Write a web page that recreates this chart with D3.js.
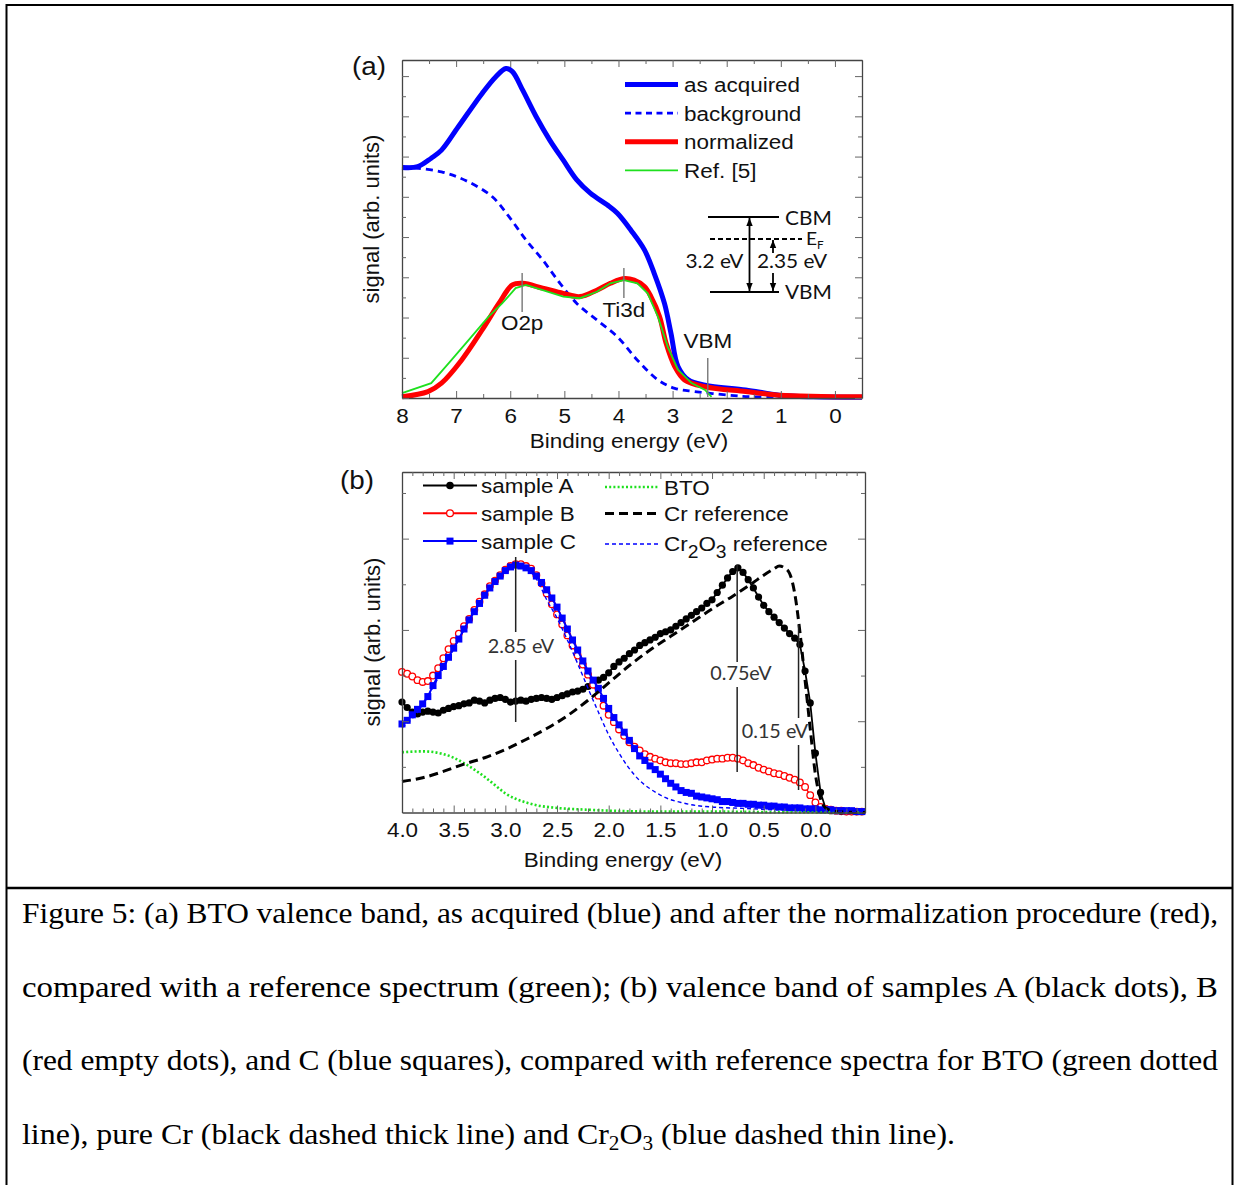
<!DOCTYPE html>
<html>
<head>
<meta charset="utf-8">
<script src="https://cdn.jsdelivr.net/npm/d3@7"></script>
<style>
  body { margin: 0; background: #fff; }
  svg { display: block; }
</style>
</head>
<body>
<svg id="fig"></svg>
<script>
// ---------- panel (a): BTO valence band, energy (eV) vs signal ----------
const acqE = [8.0, 7.71, 7.46, 7.27, 6.96, 6.52, 6.27, 6.08, 5.96, 5.77, 5.52, 5.27, 5.02, 4.77, 4.52, 4.21, 4.02, 3.77, 3.52, 3.34, 3.15, 3.03, 2.90, 2.71, 2.40, 1.65, 1.03, 0.40, -0.5];
const acqV = [5.73, 5.75, 5.96, 6.16, 6.74, 7.57, 7.98, 8.19, 8.11, 7.65, 6.99, 6.41, 5.91, 5.42, 5.09, 4.80, 4.59, 4.17, 3.68, 3.10, 2.35, 1.61, 0.78, 0.45, 0.32, 0.20, 0.07, 0.03, 0.02];
const bgE = [8.0, 7.27, 6.77, 6.33, 6.02, 5.71, 5.40, 5.08, 4.77, 4.40, 4.02, 3.65, 3.27, 2.96, 2.59, 1.96, 1.53, 0.72];
const bgV = [5.75, 5.62, 5.37, 5.00, 4.50, 3.93, 3.43, 2.85, 2.35, 1.94, 1.52, 0.94, 0.45, 0.24, 0.16, 0.07, 0.03, 0.02];
const normE = [8.0, 7.52, 7.27, 6.90, 6.52, 6.21, 5.96, 5.77, 5.40, 5.02, 4.71, 4.40, 4.15, 3.90, 3.71, 3.52, 3.40, 3.24, 3.12, 2.96, 2.78, 2.40, 1.65, 1.03, -0.5];
const normV = [0.03, 0.16, 0.37, 0.94, 1.69, 2.35, 2.81, 2.85, 2.73, 2.60, 2.52, 2.68, 2.85, 2.97, 2.93, 2.77, 2.52, 2.02, 1.36, 0.78, 0.45, 0.28, 0.16, 0.07, 0.03];
const refE = [8.0, 7.46, 7.14, 6.77, 6.40, 6.15, 5.90, 5.71, 5.40, 5.02, 4.71, 4.40, 4.15, 3.90, 3.65, 3.46, 3.27, 3.09, 2.90, 2.65, 2.40, 2.28];
const refV = [0.12, 0.37, 0.86, 1.44, 2.02, 2.35, 2.73, 2.81, 2.68, 2.52, 2.48, 2.64, 2.85, 2.93, 2.85, 2.60, 2.02, 1.27, 0.70, 0.37, 0.20, 0.03];
const aTicks = [8, 7, 6, 5, 4, 3, 2, 1, 0];
const aLegend = ["as acquired", "background", "normalized", "Ref. [5]"];
const aMarks = [{ e: 5.78, label: "O2p" }, { e: 3.90, label: "Ti3d" }, { e: 2.35, label: "VBM" }];

// ---------- panel (b): samples and references ----------
const sampE = [4.00, 3.95, 3.90, 3.85, 3.80, 3.75, 3.70, 3.65, 3.60, 3.55, 3.50, 3.45, 3.40, 3.35, 3.30, 3.25, 3.20, 3.15, 3.10, 3.05,
  3.00, 2.95, 2.90, 2.85, 2.80, 2.75, 2.70, 2.65, 2.60, 2.55, 2.50, 2.45, 2.40, 2.35, 2.30, 2.25, 2.20, 2.15, 2.10, 2.05,
  2.00, 1.95, 1.90, 1.85, 1.80, 1.75, 1.70, 1.65, 1.60, 1.55, 1.50, 1.45, 1.40, 1.35, 1.30, 1.25, 1.20, 1.15, 1.10, 1.05,
  1.00, 0.95, 0.90, 0.85, 0.80, 0.75, 0.70, 0.65, 0.60, 0.55, 0.50, 0.45, 0.40, 0.35, 0.30, 0.25, 0.20, 0.15, 0.10, 0.05,
  0.00, -0.05, -0.10, -0.15, -0.20, -0.25, -0.30, -0.35, -0.40, -0.45];
const sampleA = [1.21, 1.15, 1.10, 1.08, 1.10, 1.11, 1.10, 1.09, 1.12, 1.14, 1.16, 1.17, 1.19, 1.20, 1.23, 1.22, 1.20, 1.23, 1.25, 1.26,
  1.24, 1.21, 1.22, 1.23, 1.22, 1.24, 1.25, 1.26, 1.25, 1.24, 1.26, 1.28, 1.30, 1.32, 1.33, 1.35, 1.38, 1.42, 1.45, 1.48,
  1.53, 1.60, 1.65, 1.69, 1.74, 1.78, 1.83, 1.86, 1.89, 1.92, 1.96, 1.98, 2.00, 2.04, 2.08, 2.12, 2.16, 2.20, 2.24, 2.29,
  2.33, 2.41, 2.49, 2.57, 2.64, 2.68, 2.63, 2.55, 2.46, 2.36, 2.27, 2.20, 2.14, 2.08, 2.02, 1.96, 1.91, 1.84, 1.55, 1.20,
  0.65, 0.22, 0.04, 0.02, 0.02, 0.01, 0.01, 0.01, 0.01, 0.01];
const sampleB = [1.54, 1.52, 1.49, 1.45, 1.43, 1.44, 1.50, 1.58, 1.69, 1.79, 1.88, 1.96, 2.04, 2.12, 2.22, 2.31, 2.39, 2.48, 2.54, 2.60,
  2.66, 2.70, 2.72, 2.72, 2.70, 2.67, 2.60, 2.51, 2.40, 2.28, 2.17, 2.06, 1.94, 1.83, 1.72, 1.62, 1.51, 1.40, 1.28, 1.17,
  1.07, 0.99, 0.91, 0.84, 0.77, 0.72, 0.68, 0.64, 0.61, 0.59, 0.57, 0.55, 0.54, 0.54, 0.53, 0.53, 0.54, 0.55, 0.55, 0.57,
  0.58, 0.59, 0.59, 0.60, 0.60, 0.59, 0.57, 0.54, 0.52, 0.49, 0.47, 0.45, 0.43, 0.42, 0.40, 0.38, 0.36, 0.33, 0.28, 0.19,
  0.11, 0.06, 0.04, 0.03, 0.02, 0.02, 0.01, 0.01, 0.01, 0.01];
const sampleC = [0.97, 1.01, 1.07, 1.13, 1.19, 1.27, 1.39, 1.50, 1.60, 1.70, 1.80, 1.90, 2.01, 2.11, 2.20, 2.29, 2.38, 2.46, 2.53, 2.59,
  2.65, 2.69, 2.71, 2.70, 2.68, 2.65, 2.59, 2.52, 2.44, 2.35, 2.25, 2.13, 2.01, 1.89, 1.78, 1.66, 1.55, 1.45, 1.36, 1.25,
  1.14, 1.04, 0.96, 0.88, 0.79, 0.70, 0.62, 0.57, 0.51, 0.47, 0.42, 0.37, 0.32, 0.28, 0.24, 0.22, 0.21, 0.18, 0.17, 0.16,
  0.15, 0.14, 0.12, 0.12, 0.11, 0.10, 0.10, 0.09, 0.09, 0.08, 0.08, 0.07, 0.07, 0.06, 0.06, 0.05, 0.05, 0.05, 0.04, 0.04,
  0.04, 0.03, 0.03, 0.03, 0.02, 0.02, 0.02, 0.02, 0.01, 0.01];
const btoE = [4.0, 3.8, 3.6, 3.5, 3.4, 3.3, 3.2, 3.1, 3.0, 2.9, 2.8, 2.7, 2.5, 2.2, 2.0, 1.5, 1.0, 0.5, -0.48];
const btoV = [0.66, 0.67, 0.64, 0.60, 0.54, 0.47, 0.39, 0.30, 0.21, 0.15, 0.11, 0.08, 0.05, 0.03, 0.02, 0.01, 0.01, 0.005, 0.0];
const crE = [4.0, 3.8, 3.6, 3.4, 3.2, 3.0, 2.8, 2.6, 2.4, 2.2, 2.0, 1.8, 1.6, 1.4, 1.2, 1.0, 0.8, 0.6, 0.5, 0.4, 0.35, 0.30, 0.25, 0.20, 0.15, 0.10, 0.05, 0.0, -0.05, -0.10, -0.20, -0.48];
const crV = [0.34, 0.38, 0.45, 0.53, 0.60, 0.69, 0.80, 0.92, 1.06, 1.23, 1.42, 1.61, 1.78, 1.93, 2.08, 2.23, 2.37, 2.52, 2.60, 2.67, 2.70, 2.68, 2.62, 2.40, 1.98, 1.45, 0.92, 0.42, 0.15, 0.05, 0.01, 0.0];
const cr2o3E = [4.0, 3.9, 3.8, 3.7, 3.6, 3.5, 3.4, 3.3, 3.2, 3.1, 3.0, 2.9, 2.8, 2.7, 2.6, 2.5, 2.4, 2.3, 2.2, 2.1, 2.0, 1.9, 1.8, 1.7, 1.6, 1.5, 1.4, 1.3, 1.2, 1.0, 0.7, 0.4, 0.0, -0.48];
const cr2o3V = [0.93, 1.03, 1.18, 1.37, 1.58, 1.79, 2.00, 2.20, 2.38, 2.53, 2.64, 2.70, 2.67, 2.56, 2.33, 2.13, 1.89, 1.63, 1.36, 1.10, 0.85, 0.65, 0.48, 0.35, 0.26, 0.19, 0.14, 0.11, 0.085, 0.06, 0.045, 0.03, 0.02, 0.01];
const bTicks = [4.0, 3.5, 3.0, 2.5, 2.0, 1.5, 1.0, 0.5, 0.0];
const bMarks = [
  { e: 2.90, label: "2.85 eV", y1: 557, y2: 632, y3: 660, y4: 722, tx: 521, ty: 653 },
  { e: 0.757, label: "0.75eV", y1: 565, y2: 662, y3: 687, y4: 772, tx: 741, ty: 680 },
  { e: 0.163, label: "0.15 eV", y1: 625, y2: 718, y3: 745, y4: 790, tx: 775, ty: 738 }
];

const caption = [
  "Figure 5: (a) BTO valence band, as acquired (blue) and after the normalization procedure (red),",
  "compared with a reference spectrum (green); (b) valence band of samples A (black dots), B",
  "(red empty dots), and C (blue squares), compared with reference spectra for BTO (green dotted"
];

// ---------- setup ----------
const W = 1235, H = 1185;
const SANS = "'Liberation Sans', Arial, sans-serif";
const CAL = "Lato, 'Open Sans', sans-serif";
const SX = 1.07; // the figure is slightly wide
const BLUE = "#0000ff", RED = "#ff0000", GREEN = "#1ee01e";

const svg = d3.select("#fig").attr("width", W).attr("height", H);
svg.append("rect").attr("width", W).attr("height", H).attr("fill", "#fff");
svg.append("rect").attr("x", 6.5).attr("y", 5).attr("width", 1226).attr("height", 1200)
  .attr("fill", "none").attr("stroke", "#000").attr("stroke-width", 2);
svg.append("line").attr("x1", 6).attr("x2", 1233).attr("y1", 888).attr("y2", 888)
  .attr("stroke", "#000").attr("stroke-width", 2.5);

function label(g, x, y, str, size, anchor, family) {
  return g.append("text")
    .attr("transform", `translate(${x},${y}) scale(${SX},1)`)
    .attr("text-anchor", anchor || "start")
    .attr("font-family", family || SANS)
    .attr("font-size", size)
    .attr("fill", "#111")
    .text(str);
}

function frame(g, x, y, majX, minX, majY, minY, fmt) {
  const [xl, xr] = x.range(), [yb, yt] = y.range();
  const style = s => {
    s.selectAll("path.domain").attr("stroke", "#444").attr("stroke-width", 1.3);
    s.selectAll(".tick line").attr("stroke", "#666").attr("stroke-width", 1);
  };
  const noDomain = s => s.select("path.domain").remove();
  g.append("g").attr("transform", `translate(0,${yb})`)
    .call(d3.axisBottom(x).tickValues(majX).tickSize(-7).tickSizeOuter(0).tickPadding(10).tickFormat(fmt))
    .call(style)
    .call(s => s.selectAll("text").attr("font-family", SANS).attr("font-size", 21).attr("fill", "#111")
      .attr("transform", `scale(${SX},1)`));
  g.append("g").attr("transform", `translate(0,${yb})`)
    .call(d3.axisBottom(x).tickValues(minX).tickSize(-4).tickFormat("")).call(noDomain).call(style);
  g.append("g").attr("transform", `translate(0,${yt})`)
    .call(d3.axisTop(x).tickValues(majX).tickSize(-7).tickSizeOuter(0).tickFormat("")).call(style);
  g.append("g").attr("transform", `translate(0,${yt})`)
    .call(d3.axisTop(x).tickValues(minX).tickSize(-4).tickFormat("")).call(noDomain).call(style);
  g.append("g").attr("transform", `translate(${xl},0)`)
    .call(d3.axisLeft(y).tickValues(majY).tickSize(-7).tickSizeOuter(0).tickFormat("")).call(style);
  g.append("g").attr("transform", `translate(${xl},0)`)
    .call(d3.axisLeft(y).tickValues(minY).tickSize(-4).tickFormat("")).call(noDomain).call(style);
  g.append("g").attr("transform", `translate(${xr},0)`)
    .call(d3.axisRight(y).tickValues(majY).tickSize(-7).tickSizeOuter(0).tickFormat("")).call(style);
  g.append("g").attr("transform", `translate(${xr},0)`)
    .call(d3.axisRight(y).tickValues(minY).tickSize(-4).tickFormat("")).call(noDomain).call(style);
}

const zip = (es, vs) => es.map((e, i) => ({ e, v: vs[i] }));

// ---------- panel (a) ----------
const ga = svg.append("g");
const xa = d3.scaleLinear().domain([8, -0.5]).range([402, 862]);
const ya = d3.scaleLinear().domain([0, 8.4]).range([398, 60]);
const lineA = d3.line().x(d => xa(d.e)).y(d => ya(d.v)).curve(d3.curveCatmullRom.alpha(0.5));

ga.append("path").datum(zip(bgE, bgV)).attr("d", lineA)
  .attr("fill", "none").attr("stroke", BLUE).attr("stroke-width", 2.8).attr("stroke-dasharray", "7,5");
ga.append("path").datum(zip(acqE, acqV)).attr("d", lineA)
  .attr("fill", "none").attr("stroke", BLUE).attr("stroke-width", 5);
ga.append("path").datum(zip(normE, normV)).attr("d", lineA)
  .attr("fill", "none").attr("stroke", RED).attr("stroke-width", 5);
ga.append("path").datum(zip(refE, refV)).attr("d", d3.line().x(d => xa(d.e)).y(d => ya(d.v)))
  .attr("fill", "none").attr("stroke", GREEN).attr("stroke-width", 1.8);

frame(ga, xa, ya, aTicks, d3.range(7.5, -0.6, -1), d3.range(0, 9), d3.range(0.5, 8.4, 1), d3.format("d"));

// peak markers
const markY = [[273, 312, 330], [268, 298, 317], [358, 397, 348]];
aMarks.forEach((m, i) => {
  const [t, b, ty] = markY[i];
  ga.append("line").attr("x1", xa(m.e)).attr("x2", xa(m.e)).attr("y1", t).attr("y2", b)
    .attr("stroke", "#777").attr("stroke-width", 1.4);
  label(ga, xa(m.e), ty, m.label, 21, "middle");
});

// legend (a)
const legA = [
  { c: BLUE, w: 5, d: null }, { c: BLUE, w: 2.8, d: "6,4.5" },
  { c: RED, w: 5, d: null }, { c: GREEN, w: 1.8, d: null }
];
aLegend.forEach((t, i) => {
  const y = 84.5 + i * 28.6;
  ga.append("line").attr("x1", 625).attr("x2", 678).attr("y1", y).attr("y2", y)
    .attr("stroke", legA[i].c).attr("stroke-width", legA[i].w).attr("stroke-dasharray", legA[i].d);
  label(ga, 684, y + 7.5, t, 21);
});

// band diagram inset
const ins = ga.append("g").attr("stroke", "#000");
ins.append("line").attr("x1", 708).attr("x2", 779).attr("y1", 217).attr("y2", 217).attr("stroke-width", 2);
ins.append("line").attr("x1", 710).attr("x2", 802).attr("y1", 239).attr("y2", 239).attr("stroke-width", 1.8).attr("stroke-dasharray", "5,3");
ins.append("line").attr("x1", 710).attr("x2", 779).attr("y1", 292).attr("y2", 292).attr("stroke-width", 2);
function arrowV(x, y1, y2, up, down) {
  ins.append("line").attr("x1", x).attr("x2", x).attr("y1", y1).attr("y2", y2).attr("stroke-width", 1.8);
  if (up) ga.append("path").attr("d", `M${x},${y1} L${x - 3.2},${y1 + 8} L${x + 3.2},${y1 + 8} Z`).attr("fill", "#000");
  if (down) ga.append("path").attr("d", `M${x},${y2} L${x - 3.2},${y2 - 8} L${x + 3.2},${y2 - 8} Z`).attr("fill", "#000");
}
arrowV(749.5, 218, 291, true, true);
arrowV(773, 240, 253, true, false);
arrowV(773, 273, 291, false, true);
label(ga, 785, 225, "CBM", 19.5, "start", CAL);
label(ga, 785, 299, "VBM", 19.5, "start", CAL);
label(ga, 743.5, 268, "3.2 eV", 19.5, "end", CAL);
label(ga, 792, 268, "2.35 eV", 19.5, "middle", CAL);
const ef = label(ga, 806, 245, "E", 18, "start", CAL);
ef.append("tspan").attr("font-size", 11).attr("dy", 4).text("F");

label(ga, 352, 75, "(a)", 26);
label(ga, 629, 448, "Binding energy (eV)", 21, "middle");
ga.append("text").attr("transform", "translate(379,219) rotate(-90)").attr("text-anchor", "middle")
  .attr("font-family", SANS).attr("font-size", 22).attr("fill", "#111").text("signal (arb. units)");

// ---------- panel (b) ----------
const gb = svg.append("g");
const xb = d3.scaleLinear().domain([4, -0.48]).range([402, 865]);
const yb = d3.scaleLinear().domain([0, 3.73]).range([812.5, 472]);
const lineB = d3.line().x(d => xb(d.e)).y(d => yb(d.v));
const lineBs = d3.line().x(d => xb(d.e)).y(d => yb(d.v)).curve(d3.curveMonotoneX);

const dA = zip(sampE, sampleA), dB = zip(sampE, sampleB), dC = zip(sampE, sampleC);
gb.append("path").datum(dA).attr("d", lineB).attr("fill", "none").attr("stroke", "#000").attr("stroke-width", 1.8);
gb.selectAll(".mA").data(dA).join("circle").attr("cx", d => xb(d.e)).attr("cy", d => yb(d.v))
  .attr("r", 3.6).attr("fill", "#000");
gb.append("path").datum(dB).attr("d", lineB).attr("fill", "none").attr("stroke", RED).attr("stroke-width", 1.4);
gb.selectAll(".mB").data(dB).join("circle").attr("cx", d => xb(d.e)).attr("cy", d => yb(d.v))
  .attr("r", 3.3).attr("fill", "#fff").attr("stroke", RED).attr("stroke-width", 1.3);
gb.append("path").datum(dC).attr("d", lineB).attr("fill", "none").attr("stroke", BLUE).attr("stroke-width", 2);
gb.selectAll(".mC").data(dC).join("rect").attr("x", d => xb(d.e) - 3.5).attr("y", d => yb(d.v) - 3.5)
  .attr("width", 7).attr("height", 7).attr("fill", BLUE);

gb.append("path").datum(zip(btoE, btoV)).attr("d", lineBs).attr("fill", "none")
  .attr("stroke", GREEN).attr("stroke-width", 2.6).attr("stroke-dasharray", "2,2.2");
gb.append("path").datum(zip(crE, crV)).attr("d", lineBs).attr("fill", "none")
  .attr("stroke", "#000").attr("stroke-width", 3).attr("stroke-dasharray", "9,5");
gb.append("path").datum(zip(cr2o3E, cr2o3V)).attr("d", lineBs).attr("fill", "none")
  .attr("stroke", BLUE).attr("stroke-width", 1.4).attr("stroke-dasharray", "4,3");

frame(gb, xb, yb, bTicks, d3.range(3.9, -0.45, -0.1).map(v => +v.toFixed(1)).filter(v => Math.abs(v * 2 - Math.round(v * 2)) > 1e-6),
  [1, 2, 3], [0.5, 1.5, 2.5, 3.5], d3.format(".1f"));

bMarks.forEach(m => {
  const x = xb(m.e);
  gb.append("line").attr("x1", x).attr("x2", x).attr("y1", m.y1).attr("y2", m.y2).attr("stroke", "#222").attr("stroke-width", 1.5);
  gb.append("line").attr("x1", x).attr("x2", x).attr("y1", m.y3).attr("y2", m.y4).attr("stroke", "#222").attr("stroke-width", 1.5);
  label(gb, m.tx, m.ty, m.label, 18.5, "middle", CAL).attr("fill", "#333");
});

// legend (b)
const legB = [
  { t: "sample A", c: "#000", m: "dot" }, { t: "sample B", c: RED, m: "ring" }, { t: "sample C", c: BLUE, m: "sq" }
];
legB.forEach((l, i) => {
  const y = 485.5 + i * 27.8;
  gb.append("line").attr("x1", 423).attr("x2", 477).attr("y1", y).attr("y2", y).attr("stroke", l.c).attr("stroke-width", 2);
  if (l.m === "dot") gb.append("circle").attr("cx", 450).attr("cy", y).attr("r", 3.8).attr("fill", "#000");
  if (l.m === "ring") gb.append("circle").attr("cx", 450).attr("cy", y).attr("r", 3.4).attr("fill", "#fff").attr("stroke", RED).attr("stroke-width", 1.3);
  if (l.m === "sq") gb.append("rect").attr("x", 446.5).attr("y", y - 3.5).attr("width", 7).attr("height", 7).attr("fill", BLUE);
  label(gb, 481, y + 7.5, l.t, 21);
});
const legR = [
  { y: 487, c: GREEN, w: 2.6, d: "2,2.2" }, { y: 513.5, c: "#000", w: 3, d: "9,5" }, { y: 544, c: BLUE, w: 1.4, d: "4,3" }
];
legR.forEach(l => {
  gb.append("line").attr("x1", 605).attr("x2", 658).attr("y1", l.y).attr("y2", l.y)
    .attr("stroke", l.c).attr("stroke-width", l.w).attr("stroke-dasharray", l.d);
});
label(gb, 664, 494.5, "BTO", 21);
label(gb, 664, 521, "Cr reference", 21);
const crl = label(gb, 664, 551, "Cr", 21);
crl.append("tspan").attr("font-size", 18).attr("dy", 7).text("2");
crl.append("tspan").attr("dy", -7).text("O");
crl.append("tspan").attr("font-size", 18).attr("dy", 7).text("3");
crl.append("tspan").attr("dy", -7).text(" reference");

label(gb, 340, 489, "(b)", 26);
label(gb, 623, 867, "Binding energy (eV)", 21, "middle");
gb.append("text").attr("transform", "translate(380,642) rotate(-90)").attr("text-anchor", "middle")
  .attr("font-family", SANS).attr("font-size", 22).attr("fill", "#111").text("signal (arb. units)");

// ---------- caption ----------
const SERIF = "'Liberation Serif', 'Times New Roman', serif";
const capY = [923, 996.7, 1070.4, 1144];
caption.forEach((t, i) => {
  svg.append("text").attr("x", 22).attr("y", capY[i]).attr("font-family", SERIF).attr("font-size", 30)
    .attr("textLength", 1196).attr("lengthAdjust", "spacingAndGlyphs").text(t);
});
const last = svg.append("text").attr("x", 22).attr("y", capY[3]).attr("font-family", SERIF).attr("font-size", 30)
  .attr("textLength", 933).attr("lengthAdjust", "spacingAndGlyphs");
last.append("tspan").text("line), pure Cr (black dashed thick line) and Cr");
last.append("tspan").attr("font-size", 20).attr("dy", 6).text("2");
last.append("tspan").attr("dy", -6).text("O");
last.append("tspan").attr("font-size", 20).attr("dy", 6).text("3");
last.append("tspan").attr("dy", -6).text("\u00a0(blue dashed thin line).");
</script>
</body>
</html>
